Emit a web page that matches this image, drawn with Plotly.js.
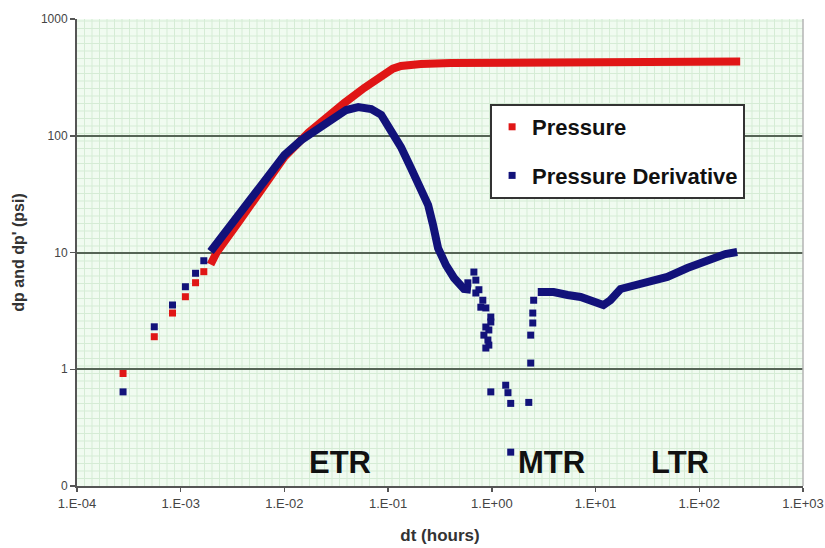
<!DOCTYPE html>
<html>
<head>
<meta charset="utf-8">
<script src="https://cdn.plot.ly/plotly-3.0.1.min.js"></script>
<style>html,body{margin:0;padding:0;background:#fff;}#chart{width:825px;height:548px;}</style>
</head>
<body>
<div id="chart"></div>
<script>
// ---- Data (dt in hours, values in psi) ----
// Early discrete samples
var earlyTime = [0.000278, 0.000556, 0.000833, 0.00111, 0.00139, 0.00167];
var pressureEarly = [0.92, 1.90, 3.03, 4.18, 5.51, 6.85];
var derivEarly = [0.64, 2.31, 3.55, 5.09, 6.64, 8.5];

// Dense pressure record
var pressureTime = [0.00194, 0.00222, 0.00361, 0.00601, 0.0100, 0.0170, 0.0265, 0.0378, 0.0588, 0.0916, 0.111, 0.133, 0.207, 0.403, 1.22, 3.69, 11.2, 33.8, 102, 248];
var pressureValue = [7.9, 10.0, 18.2, 34, 65.8, 106, 151, 191, 257, 340, 375, 396, 412, 420, 421, 424, 428, 428, 433, 433];

// Dense derivative record, early-time part (ETR)
var derivTimeA = [0.00194, 0.00248, 0.00345, 0.00482, 0.00672, 0.0100, 0.0146, 0.0203, 0.0283, 0.0394, 0.0515, 0.0687, 0.0858, 0.107, 0.133, 0.166, 0.207, 0.243, 0.271, 0.303, 0.361, 0.432, 0.538, 0.628];
var derivValueA = [10.2, 13.6, 19.7, 29.9, 43.5, 68.4, 92, 112, 139, 166, 176, 169, 151, 110, 80, 53, 34.3, 25.5, 17.2, 10.9, 7.8, 6.05, 4.87, 4.8];

// Scattered derivative points (noisy transition)
var derivScatterTime = [0.671, 0.587, 0.701, 0.701, 0.750, 0.818, 0.783, 0.875, 0.977, 0.977, 0.875, 0.935, 0.838, 0.916, 0.935, 0.875, 0.977, 1.36, 1.43, 1.52, 1.52, 2.27, 2.37, 2.37, 2.48, 2.48, 2.53];
var derivScatterValue = [6.8, 5.5, 5.8, 4.5, 4.8, 3.9, 3.4, 3.35, 2.8, 2.54, 2.3, 2.17, 1.96, 1.78, 1.61, 1.52, 0.64, 0.73, 0.63, 0.51, 0.195, 0.52, 1.13, 1.96, 2.49, 3.03, 3.9];

// Dense derivative record, middle/late time (MTR, LTR)
var derivTimeB = [2.77, 3.94, 5.38, 7.18, 11.9, 13.9, 17.4, 29.0, 49.2, 76.7, 119, 178, 232];
var derivValueB = [4.59, 4.59, 4.33, 4.16, 3.55, 3.9, 4.87, 5.5, 6.17, 7.36, 8.62, 9.7, 10.1];

// Axis ticks
var xTickVals = [1e-4, 1e-3, 1e-2, 1e-1, 1, 10, 100, 1000];
var xTickText = ['1.E-04', '1.E-03', '1.E-02', '1.E-01', '1.E+00', '1.E+01', '1.E+02', '1.E+03'];
var yTickVals = [0.1, 1, 10, 100, 1000];
var yTickText = ['0', '1', '10', '100', '1000'];

var regionLabels = ['ETR', 'MTR', 'LTR'];
var regionLabelX = [0.362, 0.653, 0.831];

// ---- Styling ----
var RED = '#e01616';
var NAVY = '#12127a';
var FONT = 'Liberation Sans, Arial, sans-serif';
var PLOT_W = 726, PLOT_H = 467, CELL = 7.5;

var traces = [
  {x: pressureTime, y: pressureValue, mode: 'lines',
   line: {color: RED, width: 8}, legendgroup: 'p', showlegend: false},
  {x: earlyTime, y: pressureEarly, mode: 'markers', name: 'Pressure',
   marker: {symbol: 'square', size: 7, color: RED}, legendgroup: 'p'},
  {x: derivTimeA, y: derivValueA, mode: 'lines',
   line: {color: NAVY, width: 8}, legendgroup: 'd', showlegend: false},
  {x: derivTimeB, y: derivValueB, mode: 'lines',
   line: {color: NAVY, width: 8}, legendgroup: 'd', showlegend: false},
  {x: derivScatterTime, y: derivScatterValue, mode: 'markers',
   marker: {symbol: 'square', size: 7, color: NAVY}, legendgroup: 'd', showlegend: false},
  {x: earlyTime, y: derivEarly, mode: 'markers', name: 'Pressure Derivative',
   marker: {symbol: 'square', size: 7, color: NAVY}, legendgroup: 'd'}
];

var annotations = regionLabels.map(function (t, i) {
  return {text: '<b>' + t + '</b>', xref: 'paper', yref: 'paper', x: regionLabelX[i], y: 0.051,
          xanchor: 'center', yanchor: 'middle', showarrow: false,
          font: {family: FONT, size: 31, color: '#111'}};
});

// uniform fine background grid pattern (decoration, paper coordinates)
var shapes = [];
for (var gx = CELL; gx < PLOT_W; gx += CELL) {
  shapes.push({type: 'line', xref: 'paper', yref: 'paper', x0: gx / PLOT_W, x1: gx / PLOT_W, y0: 0, y1: 1,
               layer: 'below', line: {color: '#d5ecd5', width: 1}});
}
for (var gy = CELL; gy < PLOT_H; gy += CELL) {
  shapes.push({type: 'line', xref: 'paper', yref: 'paper', x0: 0, x1: 1, y0: gy / PLOT_H, y1: gy / PLOT_H,
               layer: 'below', line: {color: '#d5ecd5', width: 1}});
}
// light right border of plot area
shapes.push({type: 'line', xref: 'paper', yref: 'paper', x0: 1, x1: 1, y0: 0, y1: 1,
             layer: 'above', line: {color: '#b4b4b4', width: 1.5}});

var layout = {
  width: 825, height: 548,
  margin: {l: 77, r: 22, t: 19, b: 62, pad: 0},
  paper_bgcolor: '#ffffff',
  plot_bgcolor: '#f0fbf0',
  font: {family: FONT, color: '#333'},
  showlegend: true,
  legend: {x: 0.569, y: 0.818, xanchor: 'left', yanchor: 'top', bgcolor: '#ffffff',
           bordercolor: '#333', borderwidth: 2, traceorder: 'grouped', tracegroupgap: 17,
           font: {family: FONT, size: 22, color: '#111', weight: 'bold'}},
  xaxis: {type: 'log', range: [-4, 3],
          tickvals: xTickVals, ticktext: xTickText, showgrid: false, zeroline: false,
          showline: true, linecolor: '#555', linewidth: 2, ticks: 'outside', ticklen: 4,
          tickcolor: '#555', tickwidth: 1.5,
          tickfont: {family: FONT, size: 13, color: '#444'},
          title: {text: '<b>dt (hours)</b>', font: {family: FONT, size: 17, color: '#333'}, standoff: 20}},
  yaxis: {type: 'log', range: [-1, 3],
          tickvals: yTickVals, ticktext: yTickText, showgrid: true, gridcolor: '#566456', gridwidth: 2,
          zeroline: false, showline: true, linecolor: '#555', linewidth: 2, ticks: 'outside',
          ticklen: 5, tickcolor: '#555', tickwidth: 1.5,
          tickfont: {family: FONT, size: 12, color: '#444'},
          title: {text: "<b>dp and dp' (psi)</b>", font: {family: FONT, size: 16, color: '#333'}, standoff: 12}},
  shapes: shapes,
  annotations: annotations
};

Plotly.newPlot('chart', traces, layout, {displayModeBar: false, staticPlot: true});
</script>
</body>
</html>
